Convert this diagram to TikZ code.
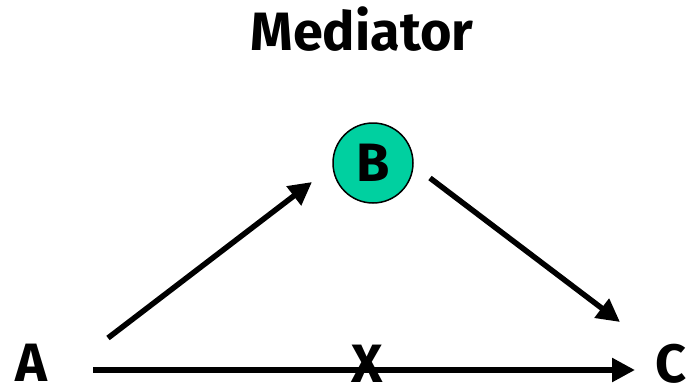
\documentclass[tikz,border=0pt]{standalone}
\usepackage{fontspec}
\setmainfont{Fira Sans}
\usetikzlibrary{calc, positioning, arrows.meta}
\definecolor{MediatorGreen}{RGB}{0,208,160}

\begin{document}
\begin{tikzpicture}[
  x=1pt, y=-1pt,
  letter/.style={font=\fontsize{54}{54}\selectfont\bfseries, inner sep=0pt,
    text height=37pt, text depth=0pt},
  arr/.style={line width=5.5pt, -{Triangle[length=23pt, width=23pt]}},
]
\useasboundingbox (0,0) rectangle (694,386);

% --- Title ---------------------------------------------------------
\node[letter] (title) at (362,31.5) {Mediator};

% --- Variables -----------------------------------------------------
\node[letter] (A) at (31,363) {A};
\node[letter] (C) at (671,364) {C};
\node[letter, circle, draw, line width=1.5pt, fill=MediatorGreen,
  minimum size=80pt] (B) at (373,163) {B};
\node[letter] (X) at (367,364) {X};

% --- Paths ---------------------------------------------------------
\draw[arr] ([shift={(62,7)}]A.center) -- ([shift={(-36,6)}]C.center);
\draw[arr] ([shift={(77,-25)}]A.center) -- ([shift={(-61,19)}]B.center);
\draw[arr] ([shift={(57,15)}]B.center) -- ([shift={(-51,-42)}]C.center);
\end{tikzpicture}
\end{document}
